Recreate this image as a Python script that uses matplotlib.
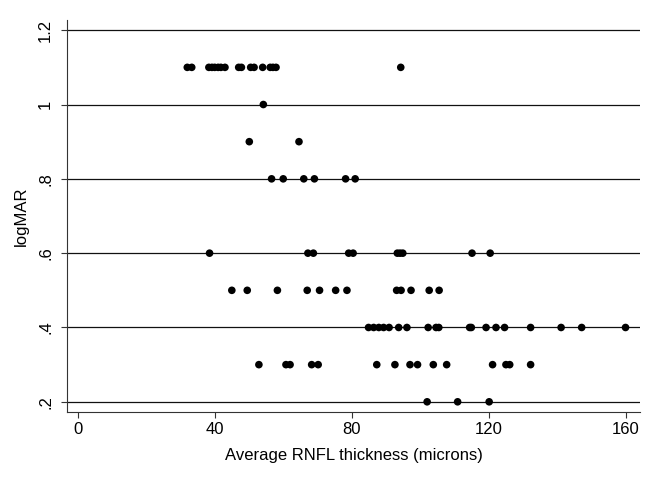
import matplotlib.pyplot as plt
import numpy as np

plt.rcParams["font.family"] = ["Liberation Sans", "DejaVu Sans"]

# logMAR rows and RNFL thickness values
rnfl_110 = [32.0, 33.3, 38.3, 39.2, 40.0, 41.0, 41.8, 43.0, 47.0, 47.8,
            50.5, 51.5, 54.0, 56.2, 57.0, 57.9, 94.3]
rnfl_100 = [54.2]
rnfl_090 = [50.1, 64.6]
rnfl_080 = [56.6, 60.0, 66.0, 69.1, 78.2, 81.0]
rnfl_060 = [38.5, 67.2, 68.8, 79.1, 80.4, 93.3, 94.1, 94.9, 115.1, 120.4]
rnfl_050 = [45.0, 49.5, 58.3, 67.0, 70.6, 75.3, 78.6, 93.1, 94.4, 97.3,
            102.6, 105.5]
rnfl_040 = [84.9, 86.4, 87.9, 89.3, 90.9, 93.7, 96.1, 102.3, 104.6, 105.4,
            114.4, 114.9, 119.2, 122.1, 124.6, 132.2, 141.1, 147.1, 159.9]
rnfl_030 = [52.9, 60.8, 62.0, 68.3, 70.2, 87.3, 92.6, 97.0, 99.2, 103.8,
            107.7, 121.1, 125.0, 126.1, 132.2]
rnfl_020 = [102.0, 110.9, 120.1]

rows = [(1.1, rnfl_110), (1.0, rnfl_100), (0.9, rnfl_090), (0.8, rnfl_080),
        (0.6, rnfl_060), (0.5, rnfl_050), (0.4, rnfl_040), (0.3, rnfl_030),
        (0.2, rnfl_020)]

yticks = [0.2, 0.4, 0.6, 0.8, 1.0, 1.2]
ytick_labels = [".2", ".4", ".6", ".8", "1", "1.2"]
xticks = [0, 40, 80, 120, 160]

fig = plt.figure(figsize=(6.57, 4.8), dpi=100)
ax = fig.add_axes([0.102, 0.142, 0.872, 0.816])

for y in yticks:
    ax.axhline(y, color="#111111", lw=0.9, zorder=1)

for lm, xs in rows:
    ax.scatter(xs, np.full(len(xs), lm), s=30, color="black",
               edgecolors="none", zorder=3)

ax.set_xlim(-3.1, 164.1)
ax.set_ylim(0.173, 1.227)
ax.set_xticks(xticks)
ax.set_yticks(yticks)
ax.set_yticklabels(ytick_labels, rotation=90, va="center")
ax.tick_params(labelsize=12, length=4, width=0.8, color="#333333")
ax.tick_params(axis="y", pad=6)
ax.tick_params(axis="x", pad=3)

for side in ["top", "right"]:
    ax.spines[side].set_visible(False)
for side in ["left", "bottom"]:
    ax.spines[side].set_linewidth(0.8)
    ax.spines[side].set_color("#333333")

ax.set_xlabel("Average RNFL thickness (microns)", fontsize=12, labelpad=8)
ax.set_ylabel("logMAR", fontsize=12, labelpad=7)

fig.savefig("out.png", dpi=100)
